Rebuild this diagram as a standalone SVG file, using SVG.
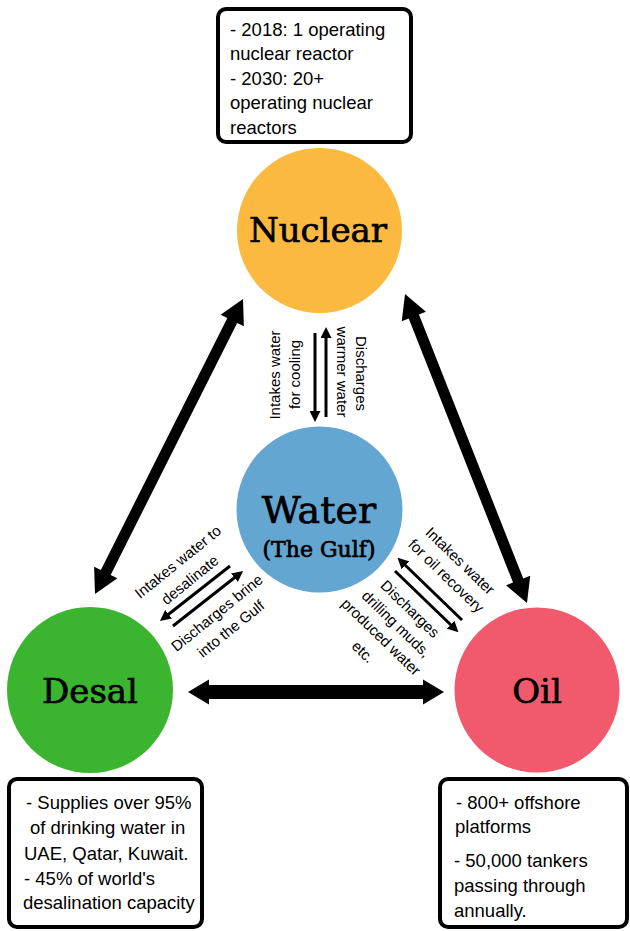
<svg xmlns="http://www.w3.org/2000/svg" width="630" height="931" viewBox="0 0 630 931">
<style>
.box{fill:#fff;stroke:#000;stroke-width:4}
.bt{font-family:"Liberation Sans",Arial,sans-serif;font-size:18.5px;fill:#000}
.lb{font-family:"Liberation Sans",Arial,sans-serif;font-size:15px;fill:#000}
.tt{font-family:"DejaVu Serif","Liberation Serif",serif;fill:#000;stroke:#000;stroke-width:0.7;text-anchor:middle}
.sa{stroke:#000;stroke-width:3;fill:none;marker-end:url(#ah)}
.big{fill:#000}
</style>
<defs>
<marker id="ah" markerUnits="userSpaceOnUse" markerWidth="11" markerHeight="11" viewBox="0 0 11 11" refX="2" refY="5.5" orient="auto">
<path d="M0,0 L11,5.5 L0,11 Z" fill="#000"/>
</marker>
</defs>
<rect width="630" height="931" fill="#fff"/>

<g id="connectors">
<polygon class="big" transform="translate(169,446.5) rotate(-63.35)" points="-165,0 -141,-13 -141,-5.5 141,-5.5 141,-13 165,0 141,13 141,5.5 -141,5.5 -141,13"/>
<polygon class="big" transform="translate(466,448.5) rotate(68.45)" points="-166,0 -142,-13 -142,-5.5 142,-5.5 142,-13 166,0 142,13 142,5.5 -142,5.5 -142,13"/>
<polygon class="big" points="188,692 209,679.5 209,685 423,685 423,679.5 444,692 423,704.5 423,699 209,699 209,704.5"/>
<line class="sa" x1="315" y1="333" x2="315" y2="413"/>
<line class="sa" x1="326" y1="417" x2="326" y2="336"/>
<line class="sa" x1="230" y1="566" x2="167" y2="615.5"/>
<line class="sa" x1="173" y1="626" x2="236" y2="576.5"/>
<line class="sa" x1="462" y1="620" x2="404" y2="564"/>
<line class="sa" x1="395" y1="571" x2="452" y2="626"/>
<text class="lb" transform="translate(280,375) rotate(-90)" text-anchor="middle">Intakes water</text>
<text class="lb" transform="translate(300,374.5) rotate(-90)" text-anchor="middle">for cooling</text>
<text class="lb" transform="translate(356,373.5) rotate(90)" text-anchor="middle">Discharges</text>
<text class="lb" transform="translate(337,372) rotate(90)" text-anchor="middle">warmer water</text>
<text class="lb" transform="translate(178,562) rotate(-39)" y="5" text-anchor="middle">Intakes water to</text>
<text class="lb" transform="translate(190,580) rotate(-39)" y="5" text-anchor="middle">desalinate</text>
<text class="lb" transform="translate(217,613) rotate(-39)" y="5" text-anchor="middle">Discharges brine</text>
<text class="lb" transform="translate(231,629) rotate(-39)" y="5" text-anchor="middle">into the Gulf</text>
<text class="lb" transform="translate(460,561) rotate(44)" y="5" text-anchor="middle">Intakes water</text>
<text class="lb" transform="translate(446,576) rotate(44)" y="5" text-anchor="middle">for oil recovery</text>
<text class="lb" transform="translate(410,609) rotate(44)" y="5" text-anchor="middle">Discharges</text>
<text class="lb" transform="translate(396,624) rotate(44)" y="5" text-anchor="middle">drilling muds,</text>
<text class="lb" transform="translate(381,637) rotate(44)" y="5" text-anchor="middle">produced water</text>
<text class="lb" transform="translate(363,652) rotate(44)" y="5" text-anchor="middle">etc.</text>
</g>

<g id="nuclear-box">
<rect class="box" x="218" y="9" width="193" height="133" rx="8"/>
<text class="bt" x="230" y="35.5">- 2018: 1 operating</text>
<text class="bt" x="230" y="60">nuclear reactor</text>
<text class="bt" x="230" y="84.5">- 2030: 20+</text>
<text class="bt" x="230" y="109">operating nuclear</text>
<text class="bt" x="230" y="133.5">reactors</text>
</g>

<g id="nuclear">
<circle cx="319.5" cy="230.5" r="82.5" fill="#FBB940"/>
<text class="tt" x="318" y="242" font-size="34">Nuclear</text>
</g>

<g id="water">
<circle cx="319.5" cy="509.5" r="83" fill="#64A6D2"/>
<text class="tt" x="319" y="523" font-size="38">Water</text>
<text class="tt" x="319" y="557" font-size="22">(The Gulf)</text>
</g>

<g id="desal">
<circle cx="90" cy="690" r="83" fill="#3BB52F"/>
<text class="tt" x="90" y="703" font-size="34">Desal</text>
</g>

<g id="oil">
<circle cx="537" cy="690" r="82.5" fill="#F1596D"/>
<text class="tt" x="537" y="703" font-size="34">Oil</text>
</g>

<g id="desal-box">
<rect class="box" x="9" y="779" width="193" height="148" rx="8"/>
<text class="bt" x="26" y="809">- Supplies over 95%</text>
<text class="bt" x="30" y="834">of drinking water in</text>
<text class="bt" x="24" y="860">UAE, Qatar, Kuwait.</text>
<text class="bt" x="24" y="885">- 45% of world's</text>
<text class="bt" x="23" y="909">desalination capacity</text>
</g>

<g id="oil-box">
<rect class="box" x="440" y="779" width="187" height="148" rx="8"/>
<text class="bt" x="456" y="809">- 800+ offshore</text>
<text class="bt" x="455" y="833">platforms</text>
<text class="bt" x="454" y="867">- 50,000 tankers</text>
<text class="bt" x="454" y="892">passing through</text>
<text class="bt" x="454" y="917">annually.</text>
</g>
</svg>
